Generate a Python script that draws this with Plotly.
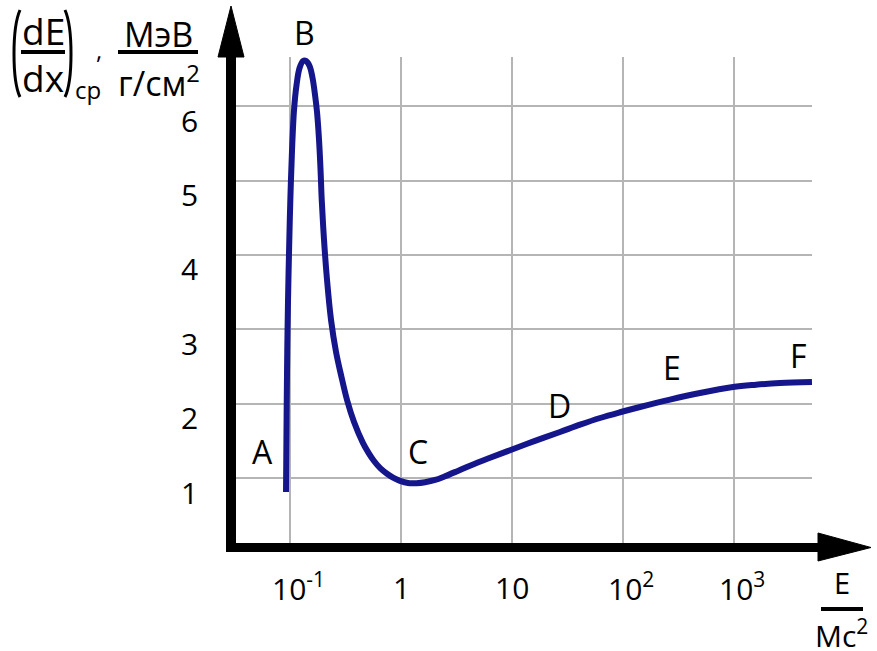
import math
import plotly.graph_objects as go

# ---------------- data ----------------
energy = [0.0920, 0.0926, 0.0934, 0.0944, 0.0959, 0.0980, 0.1006, 0.1042, 0.1086, 0.1144,
          0.1218, 0.1310, 0.1393, 0.1499, 0.1595, 0.1680, 0.1750, 0.1825, 0.1883, 0.1930,
          0.2024, 0.2154, 0.2341, 0.2597, 0.2880, 0.3262, 0.3772, 0.4545, 0.5096, 0.5712,
          0.6530, 0.7481, 0.8560, 0.9795, 1.156, 1.380, 1.645, 2.030, 2.491, 3.250,
          4.183, 6.00, 9.594, 16.1, 27.07, 41.0, 62.08, 94.0, 142.3, 265.0,
          494.0, 979.5, 1578, 2596, 5043]
dedx = [0.813, 1.378, 2.050, 2.722, 3.394, 4.066, 4.738, 5.410, 5.948, 6.284,
        6.512, 6.606, 6.606, 6.539, 6.378, 6.149, 5.921, 5.544, 5.141, 4.738,
        4.200, 3.663, 3.125, 2.695, 2.386, 2.050, 1.754, 1.470, 1.340, 1.230,
        1.130, 1.058, 1.003, 0.963, 0.933, 0.932, 0.945, 0.975, 1.025, 1.097,
        1.167, 1.260, 1.375, 1.500, 1.620, 1.718, 1.808, 1.885, 1.956, 2.055,
        2.144, 2.224, 2.255, 2.278, 2.292]

x_tick_vals = [0.1, 1, 10, 100, 1000]
x_tick_text = ["10<sup>-1</sup>", "1", "10", "10<sup>2</sup>", "10<sup>3</sup>"]
y_tick_vals = [1, 2, 3, 4, 5, 6]
y_tick_text = ["1", "2", "3", "4", "5", "6"]

point_names = ["A", "B", "C", "D", "E", "F"]
point_x = [0.056, 0.136, 1.42, 27, 276, 3850]
point_y = [1.36, 6.6, 1.36, 1.98, 2.48, 2.65]

# ---------------- layout helpers ----------------
W, H = 877, 651
L, R, T, B = 231, 65, 57, 104
PW, PH = W - L - R, H - T - B
FONT = "Open Sans"


def px(x):
    return (x - L) / PW


def py(y):
    return (H - B - y) / PH


fig = go.Figure()
fig.add_trace(go.Scatter(
    x=energy, y=dedx, mode="lines",
    line=dict(color="#16168c", width=6, shape="spline", smoothing=1.0),
    hoverinfo="skip", showlegend=False,
))

shapes = []
# axis lines
shapes.append(dict(type="line", xref="paper", yref="paper",
                   x0=px(231), x1=px(231), y0=py(552), y1=py(50),
                   line=dict(color="black", width=10)))
shapes.append(dict(type="line", xref="paper", yref="paper",
                   x0=px(226), x1=px(825), y0=py(547.5), y1=py(547.5),
                   line=dict(color="black", width=9)))
# arrow heads
shapes.append(dict(type="path", xref="paper", yref="paper",
                   path=f"M {px(218)},{py(57)} L {px(244)},{py(57)} L {px(231)},{py(6)} Z",
                   fillcolor="black", line=dict(color="black", width=1)))
shapes.append(dict(type="path", xref="paper", yref="paper",
                   path=f"M {px(818)},{py(533)} L {px(818)},{py(561)} L {px(871)},{py(547.5)} Z",
                   fillcolor="black", line=dict(color="black", width=1)))
# parentheses of y title
shapes.append(dict(type="path", xref="paper", yref="paper",
                   path=f"M {px(20)},{py(10)} C {px(12)},{py(28)} {px(12)},{py(80)} {px(20)},{py(97)}",
                   line=dict(color="black", width=3)))
shapes.append(dict(type="path", xref="paper", yref="paper",
                   path=f"M {px(65)},{py(10)} C {px(73)},{py(28)} {px(73)},{py(80)} {px(65)},{py(97)}",
                   line=dict(color="black", width=3)))
# fraction bars
shapes.append(dict(type="line", xref="paper", yref="paper",
                   x0=px(21), x1=px(65), y0=py(52), y1=py(52),
                   line=dict(color="black", width=4)))
shapes.append(dict(type="line", xref="paper", yref="paper",
                   x0=px(118), x1=px(198), y0=py(52), y1=py(52),
                   line=dict(color="black", width=4)))
shapes.append(dict(type="line", xref="paper", yref="paper",
                   x0=px(821), x1=px(863), y0=py(609), y1=py(609),
                   line=dict(color="black", width=4)))

ann = []


def text(x, y, s, size, xanchor="center"):
    ann.append(dict(xref="paper", yref="paper", x=px(x), y=py(y), text=s,
                    showarrow=False, xanchor=xanchor, yanchor="middle",
                    font=dict(family=FONT, size=size, color="black")))


# y title
text(43, 30, "dE", 37)
text(43, 78, "dx", 37)
text(88, 89, "ср", 24)
text(99, 49, ",", 24)
text(158, 34, "МэВ", 34)
text(159, 81, "г/см<sup>2</sup>", 34)
# x title
text(842, 582, "E", 29)
text(841, 634, "Mc<sup>2</sup>", 30)

# tick labels
for v, s in zip(y_tick_vals, y_tick_text):
    ann.append(dict(xref="paper", yref="y", x=0, y=v, text=s, showarrow=False,
                    xanchor="right", yanchor="middle", xshift=-31, yshift=-14,
                    font=dict(family=FONT, size=30, color="black")))
for v, s in zip(x_tick_vals, x_tick_text):
    ann.append(dict(xref="x", yref="paper", x=math.log10(v), y=0, text=s, showarrow=False,
                    xanchor="center", yanchor="middle",
                    xshift=8 if "sup" in s else 0, yshift=-40,
                    font=dict(family=FONT, size=30, color="black")))
# point labels
for n, xv, yv in zip(point_names, point_x, point_y):
    ann.append(dict(xref="x", yref="y", x=math.log10(xv), y=yv, text=n, showarrow=False,
                    xanchor="center", yanchor="middle",
                    yshift=29 if n == "B" else 0,
                    font=dict(family=FONT, size=32, color="black")))

fig.update_layout(
    width=W, height=H, autosize=False,
    margin=dict(l=L, r=R, t=T, b=B, pad=0),
    paper_bgcolor="white", plot_bgcolor="white",
    shapes=shapes, annotations=ann, showlegend=False,
    xaxis=dict(type="log", range=[-1.532, 3.703], tickvals=x_tick_vals,
               showticklabels=False, ticks="", showgrid=True,
               gridcolor="#b5b5b5", gridwidth=1.5, zeroline=False, showline=False,
               fixedrange=True),
    yaxis=dict(range=[0.074, 6.66], tickvals=y_tick_vals,
               showticklabels=False, ticks="", showgrid=True,
               gridcolor="#b5b5b5", gridwidth=1.5, zeroline=False, showline=False,
               fixedrange=True),
)

fig.write_html("out.html", config={"displayModeBar": False})
